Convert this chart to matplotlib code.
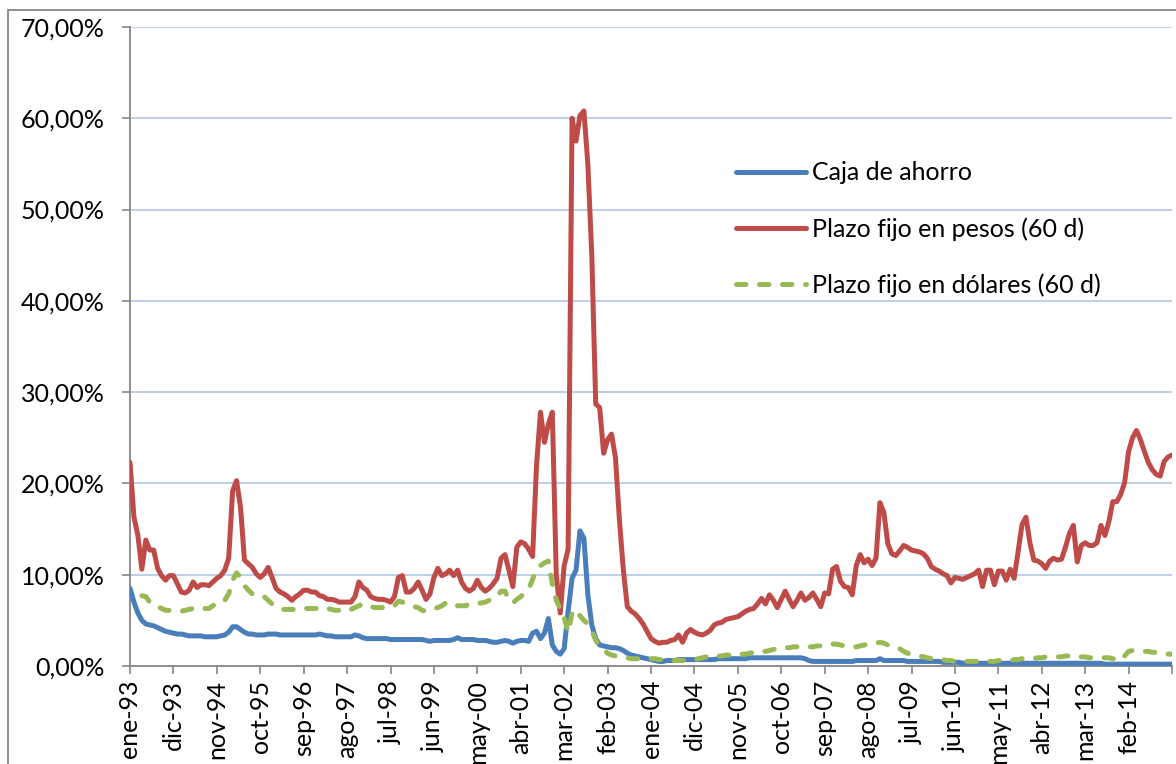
import numpy as np
import matplotlib
matplotlib.use("Agg")
import matplotlib.pyplot as plt
from matplotlib.patches import Rectangle

# tasas mensuales (%), ene-93 ... ene-15
caja_ahorro = [
    8.5, 7.0, 5.8, 5.0, 4.6, 4.5, 4.4, 4.2, 4.0, 3.8, 3.7, 3.6,
    3.5, 3.5, 3.4, 3.3, 3.3, 3.3, 3.3, 3.2, 3.2, 3.2, 3.2, 3.3,
    3.4, 3.7, 4.3, 4.3, 4.0, 3.7, 3.5, 3.5, 3.4, 3.4, 3.4, 3.5,
    3.5, 3.5, 3.4, 3.4, 3.4, 3.4, 3.4, 3.4, 3.4, 3.4, 3.4, 3.4,
    3.5, 3.4, 3.3, 3.3, 3.2, 3.2, 3.2, 3.2, 3.2, 3.4, 3.3, 3.1,
    3.0, 3.0, 3.0, 3.0, 3.0, 3.0, 2.9, 2.9, 2.9, 2.9, 2.9, 2.9,
    2.9, 2.9, 2.9, 2.8, 2.7, 2.8, 2.8, 2.8, 2.8, 2.8, 2.9, 3.1,
    2.9, 2.9, 2.9, 2.9, 2.8, 2.8, 2.8, 2.7, 2.6, 2.6, 2.7, 2.8,
    2.7, 2.5, 2.7, 2.8, 2.8, 2.7, 3.6, 3.8, 3.0, 3.6, 5.2, 2.3,
    1.6, 1.3, 1.9, 6.0, 9.6, 10.5, 14.8, 14.0, 7.8, 4.5, 3.0, 2.3,
    2.2, 2.1, 2.0, 2.0, 1.9, 1.7, 1.4, 1.2, 1.1, 1.0, 0.9, 0.8,
    0.7, 0.6, 0.5, 0.5, 0.6, 0.6, 0.6, 0.7, 0.7, 0.7, 0.7, 0.7,
    0.7, 0.7, 0.7, 0.7, 0.7, 0.8, 0.8, 0.8, 0.8, 0.8, 0.8, 0.8,
    0.8, 0.9, 0.9, 0.9, 0.9, 0.9, 0.9, 0.9, 0.9, 0.9, 0.9, 0.9,
    0.9, 0.9, 0.9, 0.8, 0.6, 0.5, 0.5, 0.5, 0.5, 0.5, 0.5, 0.5,
    0.5, 0.5, 0.5, 0.5, 0.6, 0.6, 0.6, 0.6, 0.6, 0.6, 0.8, 0.6,
    0.6, 0.6, 0.6, 0.6, 0.6, 0.5, 0.5, 0.5, 0.5, 0.5, 0.5, 0.5,
    0.5, 0.5, 0.4, 0.4, 0.4, 0.4, 0.4, 0.3, 0.3, 0.3, 0.3, 0.3,
    0.3, 0.3, 0.3, 0.3, 0.3, 0.3, 0.3, 0.3, 0.3, 0.3, 0.3, 0.3,
    0.3, 0.3, 0.3, 0.3, 0.3, 0.3, 0.3, 0.3, 0.3, 0.3, 0.3, 0.3,
    0.3, 0.3, 0.3, 0.3, 0.3, 0.3, 0.3, 0.2, 0.2, 0.2, 0.2, 0.2,
    0.2, 0.2, 0.2, 0.2, 0.2, 0.2, 0.2, 0.2, 0.2, 0.2, 0.2, 0.2,
    0.2,
]

plazo_pesos = [
    22.3, 16.3, 14.3, 10.6, 13.8, 12.7, 12.7, 10.7, 9.9, 9.4, 9.9, 9.9,
    9.0, 8.1, 8.0, 8.3, 9.2, 8.6, 8.9, 8.9, 8.8, 9.2, 9.6, 9.9,
    10.5, 11.8, 19.2, 20.3, 17.4, 11.6, 11.2, 10.8, 10.1, 9.7, 10.1, 10.8,
    9.7, 8.5, 8.1, 7.9, 7.6, 7.2, 7.6, 7.9, 8.3, 8.3, 8.1, 8.1,
    7.7, 7.6, 7.3, 7.3, 7.2, 7.0, 7.0, 7.0, 7.0, 7.6, 9.2, 8.6,
    8.3, 7.6, 7.4, 7.3, 7.3, 7.2, 7.0, 7.6, 9.7, 9.9, 8.1, 8.1,
    8.5, 9.2, 8.3, 7.3, 7.9, 9.7, 10.7, 9.9, 10.1, 10.5, 9.9, 10.5,
    9.2, 8.5, 8.2, 8.5, 9.4, 8.6, 8.2, 8.5, 9.0, 9.6, 11.8, 12.2,
    10.5, 8.7, 13.0, 13.6, 13.4, 12.8, 12.0, 22.0, 27.8, 24.5, 26.5, 27.8,
    10.0, 5.8, 11.0, 12.8, 60.0, 57.5, 60.3, 60.8, 55.0, 45.0, 28.7, 28.3,
    23.3, 24.8, 25.4, 22.8, 16.0, 10.5, 6.5, 6.0, 5.7, 5.2, 4.6, 3.8,
    3.0, 2.7, 2.5, 2.6, 2.6, 2.8, 2.9, 3.4, 2.6, 3.6, 4.0, 3.7,
    3.5, 3.4, 3.6, 3.9, 4.5, 4.7, 4.8, 5.1, 5.2, 5.3, 5.4, 5.7,
    6.0, 6.2, 6.3, 6.8, 7.4, 6.8, 7.8, 7.2, 6.4, 7.3, 8.2, 7.3,
    6.5, 7.2, 8.0, 7.2, 7.5, 8.0, 7.3, 6.5, 8.0, 7.9, 10.6, 10.9,
    9.3, 8.7, 8.6, 7.8, 11.0, 12.2, 11.3, 11.7, 11.0, 11.8, 17.9, 16.8,
    13.4, 12.3, 12.1, 12.6, 13.2, 13.0, 12.7, 12.6, 12.5, 12.3, 11.8, 10.9,
    10.6, 10.4, 10.1, 9.9, 9.1, 9.7, 9.6, 9.5, 9.7, 9.9, 10.1, 10.5,
    8.7, 10.5, 10.5, 8.9, 10.4, 10.4, 9.4, 10.6, 9.6, 12.5, 15.5, 16.3,
    13.5, 11.6, 11.5, 11.2, 10.7, 11.5, 11.8, 11.6, 11.7, 13.0, 14.5, 15.4,
    11.4, 13.2, 13.5, 13.2, 13.2, 13.5, 15.4, 14.3, 15.8, 18.0, 18.0, 18.8,
    20.1, 23.5, 25.0, 25.8, 24.8, 23.5, 22.3, 21.5, 21.0, 20.8, 22.4, 22.9,
    23.1,
]

nan = np.nan
plazo_dolares = [
    nan, nan, nan, 7.7, 7.6, 7.0, 6.6, 6.5, 6.3, 6.1, 6.1, 6.1,
    6.1, 6.0, 6.1, 6.2, 6.3, 6.4, 6.4, 6.3, 6.3, 6.6, 6.9, 6.9,
    7.2, 7.9, 9.4, 10.2, 9.7, 8.8, 8.3, 7.9, 7.7, 7.7, 7.6, 7.2,
    6.8, 6.5, 6.3, 6.2, 6.2, 6.2, 6.2, 6.3, 6.3, 6.3, 6.3, 6.3,
    6.3, 6.4, 6.3, 6.2, 6.1, 6.1, 6.0, 6.0, 6.2, 6.4, 6.6, 6.8,
    6.6, 6.5, 6.4, 6.4, 6.4, 6.4, 6.4, 6.6, 7.1, 7.0, 6.8, 6.6,
    6.5, 6.4, 6.1, 6.0, 6.2, 6.3, 6.4, 6.6, 6.9, 7.0, 6.8, 6.6,
    6.6, 6.6, 6.8, 6.9, 6.9, 6.9, 7.0, 7.2, 7.4, 7.6, 8.2, 8.2,
    7.2, 6.9, 7.3, 7.6, 8.0, 8.4, 9.5, 10.5, 11.0, 11.3, 11.5, 9.0,
    7.2, 6.3, 5.3, 3.7, 5.8, 6.2, 5.5, 5.0, 4.6, 3.9, 2.8, 2.2,
    1.8, 1.4, 1.2, 1.1, 1.0, 0.9, 0.9, 0.8, 0.8, 0.8, 0.8, 0.8,
    0.8, 0.8, 0.7, 0.7, 0.7, 0.6, 0.6, 0.6, 0.6, 0.6, 0.7, 0.7,
    0.8, 0.9, 1.0, 1.0, 1.1, 1.1, 1.1, 1.2, 1.2, 1.2, 1.2, 1.3,
    1.3, 1.4, 1.5, 1.5, 1.6, 1.6, 1.7, 1.8, 1.9, 1.9, 2.0, 2.0,
    2.1, 2.1, 2.1, 2.1, 2.1, 2.1, 2.2, 2.2, 2.3, 2.3, 2.4, 2.4,
    2.3, 2.2, 2.1, 2.1, 2.1, 2.2, 2.3, 2.4, 2.4, 2.5, 2.6, 2.5,
    2.3, 2.1, 2.0, 1.9, 1.6, 1.4, 1.3, 1.2, 1.1, 1.0, 0.9, 0.8,
    0.7, 0.7, 0.7, 0.6, 0.6, 0.5, 0.5, 0.5, 0.5, 0.5, 0.5, 0.5,
    0.5, 0.5, 0.5, 0.5, 0.6, 0.6, 0.6, 0.6, 0.7, 0.7, 0.8, 0.8,
    0.8, 0.8, 0.9, 0.9, 1.0, 1.0, 1.0, 1.0, 1.0, 1.1, 1.1, 1.1,
    1.1, 1.0, 1.0, 0.9, 0.9, 0.9, 0.9, 0.9, 0.9, 0.8, 0.7, 0.6,
    1.1, 1.6, 1.7, 1.7, 1.6, 1.6, 1.6, 1.5, 1.5, 1.5, 1.4, 1.3,
    1.3,
]

xtick_labels = ["ene-93", "dic-93", "nov-94", "oct-95", "sep-96", "ago-97",
                "jul-98", "jun-99", "may-00", "abr-01", "mar-02", "feb-03",
                "ene-04", "dic-04", "nov-05", "oct-06", "sep-07", "ago-08",
                "jul-09", "jun-10", "may-11", "abr-12", "mar-13", "feb-14"]
ytick_values = [0, 10, 20, 30, 40, 50, 60, 70]
ytick_labels = ["0,00%", "10,00%", "20,00%", "30,00%", "40,00%", "50,00%", "60,00%", "70,00%"]

plt.rcParams['font.family'] = ['Lato', 'DejaVu Sans']
FS = 18
gray = '#868686'

months = np.arange(len(plazo_pesos))

fig = plt.figure(figsize=(11.76, 7.64), dpi=100)
ax = fig.add_axes([130 / 1176, 1 - 666 / 764, 1042 / 1176, 639 / 764])

ax.plot(months, caja_ahorro, color='#4A7EBB', lw=3.6, label='Caja de ahorro',
        solid_joinstyle='round', solid_capstyle='round', zorder=3)
ax.plot(months, plazo_pesos, color='#BE4B48', lw=3.6, label='Plazo fijo en pesos (60 d)',
        solid_joinstyle='round', solid_capstyle='round', zorder=3)
ax.plot(months, plazo_dolares, color='#98B954', lw=3.6, label='Plazo fijo en dólares (60 d)',
        dashes=(1.9, 2.7), dash_capstyle='round', dash_joinstyle='round', zorder=3)

ax.set_xlim(0, len(plazo_pesos) - 1)
ax.set_ylim(0, 70)
ax.set_yticks(ytick_values)
ax.set_yticklabels(ytick_labels, fontsize=FS)
xt = list(range(0, 11 * len(xtick_labels), 11)) + [len(plazo_pesos) - 1]
ax.set_xticks(xt)
ax.set_xticklabels(xtick_labels + [""], rotation=90, fontsize=FS)

ax.grid(axis='y', color='#B3C7E6', lw=1.2)
ax.set_axisbelow(True)
for s in ['top', 'right']:
    ax.spines[s].set_visible(False)
for s in ['left', 'bottom']:
    ax.spines[s].set_color(gray)
    ax.spines[s].set_linewidth(1.3)
ax.tick_params(axis='both', direction='out', length=6, width=1.2, color=gray, labelcolor='black')
ax.tick_params(axis='y', pad=12)
ax.tick_params(axis='x', pad=4)

leg = ax.legend(loc='upper left', bbox_to_anchor=(713 / 1176, 1 - 139 / 764),
                bbox_transform=fig.transFigure, frameon=False, fontsize=FS,
                handlelength=2.8, handletextpad=0.25, labelspacing=1.3)

# marco del area del grafico
fig.patches.append(Rectangle((8 / 1176, -0.05), 1.2, 1 - 10 / 764 + 0.05,
                             transform=fig.transFigure, fill=False,
                             edgecolor=gray, lw=1.3))

fig.savefig('out.png', dpi=100)
